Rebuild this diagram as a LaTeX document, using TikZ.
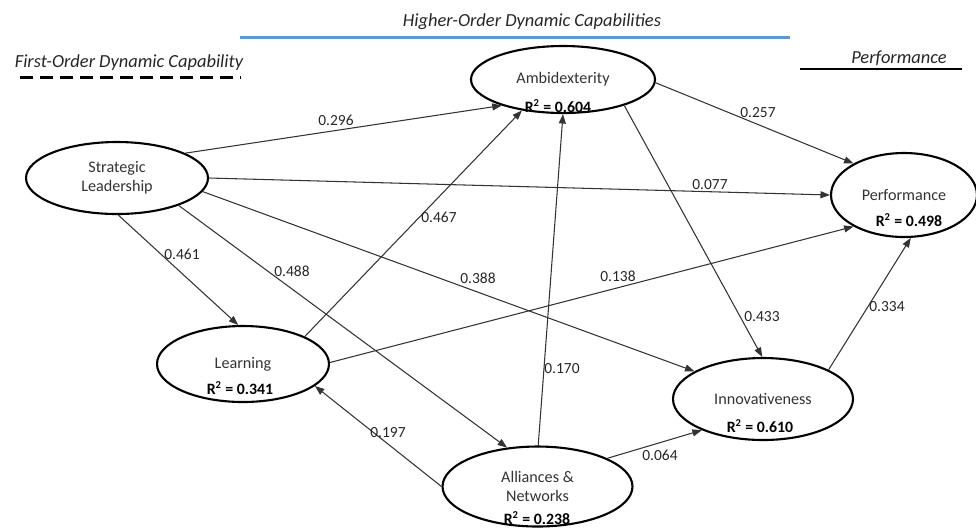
\documentclass[tikz,border=0pt]{standalone}
\usepackage{fontspec}
\setmainfont{Carlito}
\usetikzlibrary{shapes.geometric,arrows.meta}
\definecolor{hoblue}{HTML}{5B9BD5}
\definecolor{edgegray}{HTML}{333333}
\tikzset{
  construct/.style={ellipse, draw=black, line width=1.2pt, inner sep=0pt, align=center, font=\fontsize{9.2}{11}\selectfont, text=black!80},
  rsq/.style={font=\fontsize{9}{11}\selectfont\bfseries, inner sep=0pt},
  edge/.style={draw=edgegray, line width=0.6pt, -{Triangle[length=1.9mm,width=1.4mm]}},
  lbl/.style={font=\fontsize{8.8}{10}\selectfont, text=black!85, inner sep=0pt},
  hdr/.style={font=\fontsize{10.5}{12}\selectfont\itshape, text=black!85, inner sep=0pt}
}
\begin{document}
\begin{tikzpicture}[x=0.02cm,y=0.02cm]
\useasboundingbox (0,0) rectangle (976,-529);
% headers
\node[hdr] (hhoc) at (532,-22) {Higher-Order Dynamic Capabilities};
\coordinate (hb1) at (240,-37.5); \coordinate (hb2) at (790,-37.5);
\draw[hoblue, line width=1.7pt] (hb1) -- (hb2);
\node[hdr] (hfoc) at (129,-63) {First-Order Dynamic Capability};
\coordinate (hd1) at (20,-77); \coordinate (hd2) at (241,-77);
\draw[black, line width=1.7pt, dash pattern=on 7.4pt off 4pt] (hd1) -- (hd2);
\node[hdr] (hperf) at (899,-58) {Performance};
\coordinate (hp1) at (800,-69); \coordinate (hp2) at (962,-69);
\draw[black, line width=1.4pt] (hp1) -- (hp2);
% constructs
\node[construct, minimum width=3.64cm, minimum height=1.44cm] (sl) at (117,-178) {Strategic\\Leadership};
\node[construct, minimum width=3.68cm, minimum height=1.34cm] (amb) at (563,-79.5) {Ambidexterity};
\node[construct, minimum width=2.92cm, minimum height=1.68cm] (perf) at (904,-195) {Performance};
\node[construct, minimum width=3.44cm, minimum height=1.52cm] (learn) at (243,-364) {Learning};
\node[construct, minimum width=3.6cm, minimum height=1.64cm] (innov) at (763,-399) {Innovativeness};
\node[construct, minimum width=3.8cm, minimum height=1.6cm] (all) at (537.5,-486.5) {Alliances \&\\Networks};
% R squared
\node[rsq] (ramb) at (558,-106) {R\textsuperscript{2} = 0.604};
\node[rsq] (rperf) at (909,-220) {R\textsuperscript{2} = 0.498};
\node[rsq] (rlearn) at (240,-388) {R\textsuperscript{2} = 0.341};
\node[rsq] (rinnov) at (760,-426) {R\textsuperscript{2} = 0.610};
\node[rsq] (rall) at (537,-518) {R\textsuperscript{2} = 0.238};
% paths
\draw[edge] (sl.20) -- (amb.203);
\draw[edge] (sl.0) -- (perf.180);
\draw[edge] (sl.-88) -- (learn.97);
\draw[edge] (sl.-24) -- (all.128);
\draw[edge] (sl.-9) -- (innov.158);
\draw[edge] (learn.24) -- (amb.217);
\draw[edge] (learn.1) -- (perf.212);
\draw[edge] (all.180) -- (learn.-17);
\draw[edge] (all.89) -- (amb.270);
\draw[edge] (all.22) -- (innov.207);
\draw[edge] (amb.-2.5) -- (perf.148);
\draw[edge] (amb.-23) -- (innov.91);
\draw[edge] (innov.24) -- (perf.-81);
% coefficients
\node[lbl] (c1) at (336,-120) {0.296};
\node[lbl] (c2) at (710,-185) {0.077};
\node[lbl] (c3) at (182,-254) {0.461};
\node[lbl] (c4) at (292,-271) {0.488};
\node[lbl] (c5) at (478,-278) {0.388};
\node[lbl] (c6) at (439,-217) {0.467};
\node[lbl] (c7) at (618,-276) {0.138};
\node[lbl] (c8) at (388,-433) {0.197};
\node[lbl] (c9) at (562,-369) {0.170};
\node[lbl] (c10) at (660,-455) {0.064};
\node[lbl] (c11) at (758,-113) {0.257};
\node[lbl] (c12) at (762,-317) {0.433};
\node[lbl] (c13) at (887,-307) {0.334};
\end{tikzpicture}
\end{document}
